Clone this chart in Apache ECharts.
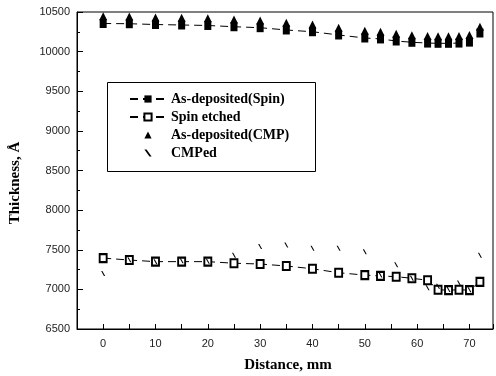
<!DOCTYPE html>
<html><head><meta charset="utf-8">
<script src="https://cdn.jsdelivr.net/npm/echarts@6/dist/echarts.min.js"></script>
<style>html,body{margin:0;padding:0;background:#fff}#c{width:496px;height:376px}</style>
</head><body><div id="c"></div>
<script>
const distance   = [0, 5, 10, 15, 20, 25, 30, 35, 40, 45, 50, 53, 56, 59, 62, 64, 66, 68, 70, 72];
const asDepSpin  = [10355, 10352, 10342, 10336, 10330, 10314, 10302, 10273, 10251, 10210, 10172, 10160, 10134, 10118, 10108, 10105, 10105, 10108, 10120, 10235];
const asDepCMP   = [10445, 10442, 10432, 10426, 10420, 10404, 10392, 10363, 10341, 10300, 10262, 10250, 10224, 10208, 10198, 10195, 10195, 10198, 10210, 10315];
const spinEtched = [7395, 7370, 7350, 7350, 7350, 7330, 7320, 7295, 7260, 7210, 7180, 7170, 7160, 7140, 7115, 6995, 6990, 6995, 6990, 7095];
const cmped      = [7200, 7375, 7350, 7360, 7355, 7430, 7540, 7560, 7520, 7520, 7475, 7180, 7310, 7140, 7020, 7040, 7000, 7080, 6995, 7430];
const xTickLabels = [0, 10, 20, 30, 40, 50, 60, 70];
const yTickLabels = [6500, 7000, 7500, 8000, 8500, 9000, 9500, 10000, 10500];
const seriesNames = ['As-deposited(Spin)', 'Spin etched', 'As-deposited(CMP)', 'CMPed'];

const pair = arr => distance.map((d, i) => [d, arr[i]]);
const serif = '"Liberation Serif", "DejaVu Serif", serif';
const sans = '"Liberation Sans", Arial, sans-serif';
const tickSym = 'path://M0,0L1.2,0L4,5L2.8,5Z';

const chart = echarts.init(document.getElementById('c'), null, {renderer: 'canvas'});
chart.setOption({
  animation: false,
  backgroundColor: '#fff',
  grid: {left: 77, top: 12, right: 1, bottom: 47, show: true, borderColor: '#000', borderWidth: 1},
  xAxis: {
    type: 'value', min: -5, max: 74.5, interval: 5,
    axisLine: {onZero: false, lineStyle: {color: '#000', width: 1}},
    axisTick: {inside: true, length: 5, lineStyle: {color: '#000'}},
    splitLine: {show: false},
    axisLabel: {
      color: '#222', fontFamily: sans, fontSize: 11, margin: 9,
      formatter: v => xTickLabels.includes(v) ? String(v) : ''
    }
  },
  yAxis: {
    type: 'value', min: 6500, max: 10500, interval: 500,
    axisLine: {show: true, onZero: false, lineStyle: {color: '#000', width: 1}},
    axisTick: {show: true, inside: true, length: 6, lineStyle: {color: '#000'}},
    minorTick: {show: true, splitNumber: 2, length: 3, lineStyle: {color: '#000'}},
    splitLine: {show: false},
    axisLabel: {
      color: '#222', fontFamily: sans, fontSize: 11, margin: 7,
      formatter: v => yTickLabels.includes(v) ? String(v) : ''
    }
  },
  legend: {
    left: 124, top: 87, orient: 'vertical', itemGap: 4, itemWidth: 36, itemHeight: 9,
    data: seriesNames,
    textStyle: {fontFamily: serif, fontWeight: 'bold', fontSize: 14, color: '#000', lineHeight: 14}
  },
  graphic: [
    {type: 'rect', shape: {x: 107.5, y: 82.5, width: 208, height: 89}, style: {fill: 'none', stroke: '#000', lineWidth: 1}, z: 100},
    {type: 'text', x: 15, y: 183, rotation: Math.PI / 2,
     style: {text: 'Thickness, Å', font: 'bold 15px ' + serif, fill: '#000', textAlign: 'center', textVerticalAlign: 'middle'}},
    {type: 'text', x: 288, y: 365,
     style: {text: 'Distance, mm', font: 'bold 15px ' + serif, fill: '#000', textAlign: 'center', textVerticalAlign: 'middle'}}
  ],
  series: [
    {name: seriesNames[0], type: 'line', data: pair(asDepSpin), symbol: 'rect', symbolSize: [7, 9],
     itemStyle: {color: '#000'}, lineStyle: {color: '#000', width: 1, type: [8, 5]}},
    {name: seriesNames[1], type: 'line', data: pair(spinEtched), symbol: 'emptyRect', symbolSize: [7, 8],
     itemStyle: {color: '#000', borderColor: '#000', borderWidth: 1}, lineStyle: {color: '#000', width: 1, type: [8, 5]}},
    {name: seriesNames[2], type: 'line', data: pair(asDepCMP), symbol: 'triangle', symbolSize: [8, 8],
     itemStyle: {color: '#000'}, lineStyle: {width: 0, opacity: 0}},
    {name: seriesNames[3], type: 'line', data: pair(cmped), symbol: tickSym, symbolSize: [4, 5],
     itemStyle: {color: '#000'}, lineStyle: {width: 0, opacity: 0}}
  ]
});
</script></body></html>
